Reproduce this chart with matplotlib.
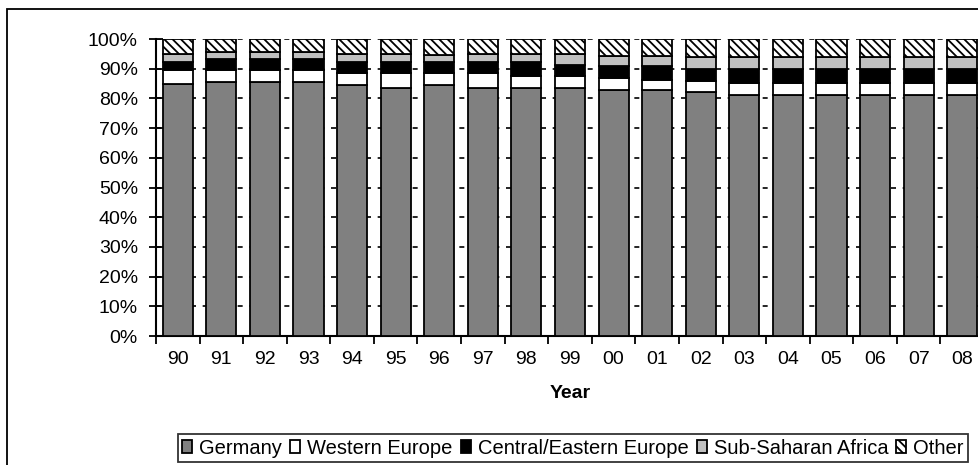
import numpy as np
import matplotlib
matplotlib.use("Agg")
import matplotlib.pyplot as plt
from matplotlib.patches import Rectangle

plt.rcParams["font.family"] = ["Liberation Sans", "DejaVu Sans"]
plt.rcParams["hatch.linewidth"] = 1.3

years = ["90", "91", "92", "93", "94", "95", "96", "97", "98", "99",
         "00", "01", "02", "03", "04", "05", "06", "07", "08"]

# shares in percent
germany = [84.7, 85.4, 85.4, 85.4, 84.6, 83.6, 84.6, 83.6, 83.6, 83.6,
           82.9, 82.9, 82.2, 81.0, 81.0, 81.0, 81.0, 81.0, 81.0]
western_europe = [4.8, 4.0, 4.0, 4.0, 3.9, 5.0, 3.9, 5.0, 3.9, 3.9,
                  3.9, 3.3, 3.7, 4.2, 4.2, 4.2, 4.2, 4.2, 4.2]
central_eastern = [2.8, 3.9, 3.9, 3.9, 3.7, 3.7, 3.7, 3.7, 4.8, 3.9,
                   4.2, 4.8, 3.9, 4.8, 4.8, 4.8, 4.8, 4.8, 4.8]
sub_saharan = [2.6, 2.2, 2.2, 2.2, 2.8, 2.5, 2.5, 2.5, 2.5, 3.4,
               3.4, 3.4, 4.0, 4.0, 4.0, 4.0, 4.0, 4.0, 4.0]
other = [5.1, 4.5, 4.5, 4.5, 5.0, 5.2, 5.3, 5.2, 5.2, 5.2,
         5.6, 5.6, 6.2, 6.0, 6.0, 6.0, 6.0, 6.0, 6.0]

series = [
    ("Germany", germany, "#808080", None),
    ("Western Europe", western_europe, "white", None),
    ("Central/Eastern Europe", central_eastern, "black", None),
    ("Sub-Saharan Africa", sub_saharan, "#c0c0c0", None),
    ("Other", other, "white", "\\\\\\\\"),
]

fig = plt.figure(figsize=(9.79, 4.65), dpi=100)
ax = fig.add_axes([156 / 979, 129 / 465, 828 / 979, 297 / 465])

x = np.arange(len(years))
bottom = np.zeros(len(years))
for name, vals, color, hatch in series:
    vals = np.array(vals)
    ax.bar(x, vals, 0.69, bottom=bottom, color=color, edgecolor="black",
           linewidth=1.3, hatch=hatch, label=name, zorder=3)
    bottom += vals

ax.set_xlim(-0.5, len(years) - 0.5)
ax.set_ylim(0, 100)

ax.set_yticks(np.arange(0, 101, 10))
ax.set_yticklabels([f"{v}%" for v in range(0, 101, 10)], fontsize=14)
ax.tick_params(axis="y", direction="inout", length=10, width=1.3, pad=8)

ax.set_xticks(x)
ax.set_xticklabels(years, fontsize=14)
ax.tick_params(axis="x", which="major", length=0, pad=11)
ax.set_xticks(np.arange(-0.5, len(years), 1), minor=True)
ax.tick_params(axis="x", which="minor", direction="out", length=6, width=1.3)

ax.yaxis.grid(True, color="black", linestyle=(0, (3, 4)), linewidth=1.2)
ax.set_axisbelow(True)

for side in ["top", "right"]:
    ax.spines[side].set_visible(False)
for side in ["left", "bottom"]:
    ax.spines[side].set_linewidth(1.5)

ax.set_xlabel("Year", fontsize=14, fontweight="bold", labelpad=12)

leg = fig.legend(loc="center", bbox_to_anchor=(573 / 979, 17 / 465), ncol=5,
                 fontsize=14.5, frameon=True, fancybox=False, handlelength=0.5,
                 handleheight=0.6, handletextpad=0.35, columnspacing=0.4,
                 borderpad=0.2, borderaxespad=0)
leg.get_frame().set_edgecolor("black")
leg.get_frame().set_linewidth(1.3)

# outer chart border (right and bottom edges fall outside the picture)
fig.patches.append(Rectangle((7 / 979, -0.1), 1.2, (465 - 9) / 465 + 0.1,
                             transform=fig.transFigure, fill=False,
                             edgecolor="black", linewidth=1.3))

fig.savefig("out.png", dpi=100)
